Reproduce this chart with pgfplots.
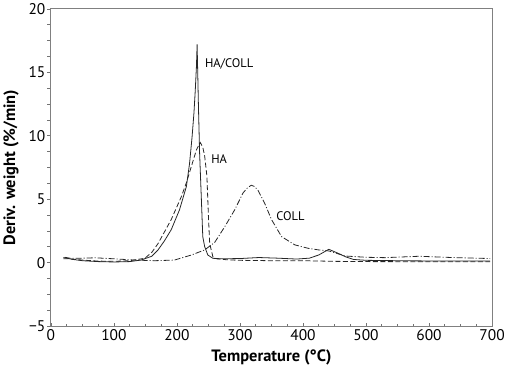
\documentclass[border=0pt]{standalone}
\usepackage{pgfplots}
\pgfplotsset{compat=1.18}
\usepackage{fontspec}
\setmainfont{PT Sans}
\begin{document}
\begin{tikzpicture}
\begin{axis}[
  scale only axis,
  width=441bp, height=317bp,
  xmin=0, xmax=700, ymin=-5, ymax=20,
  xtick={0,100,...,700}, ytick={-5,0,5,10,15,20},
  minor x tick num=3, minor y tick num=3,
  xtick pos=left, ytick pos=left,
  tick align=inside,
  major tick length=3.5bp, minor tick length=2.5bp,
  y tick style={xshift=-3.5bp},
  axis line style={draw=black!50, line width=0.9pt},
  tick style={draw=black!55, line width=0.7pt},
  /pgf/number format/assume math mode=true,
  ticklabel style={font=\fontsize{15.5}{17}\selectfont},
  yticklabel={\ifdim\tick pt<0pt −\pgfmathparse{-\tick}\pgfmathprintnumber{\pgfmathresult}\else\pgfmathprintnumber{\tick}\fi},
  yticklabel style={xshift=-2bp},
  xlabel={\bfseries Temperature (°C)},
  ylabel={\bfseries Deriv. weight (\%/min)},
  label style={font=\fontsize{16.5}{18}\selectfont},
  xlabel style={yshift=-2bp},
  ylabel style={yshift=3bp},
  clip=false,
]
% HA/COLL solid
\addplot[black!85, line width=0.8pt] coordinates {
(20,0.4)(25,0.35)(35,0.25)(50,0.15)(75,0.08)(100,0.05)(125,0.08)(143,0.2)
(160,0.5)(170,1.0)(180,1.7)(191,2.6)(204,4.15)(215,6.0)(220,7.8)(224,9.9)
(227,11.8)(229,13.5)(231,15.5)(232,17.2)(233,15.0)(234,12.6)(236,8.6)(239,4.7)
(241,2.05)(244,1.26)(249,0.6)(257,0.34)(270,0.3)(300,0.32)(330,0.4)(360,0.35)
(390,0.28)(410,0.35)(425,0.6)(441,1.05)(455,0.75)(468,0.45)(480,0.25)(500,0.18)
(550,0.15)(600,0.13)(650,0.12)(697,0.12)
};
% HA dashed
\addplot[black!85, line width=0.8pt, dash pattern=on 5bp off 2.5bp] coordinates {
(20,0.3)(30,0.3)(50,0.2)(75,0.12)(100,0.1)(125,0.15)(149,0.34)(160,0.8)
(170,1.5)(180,2.4)(191,3.4)(207,5.2)(215,6.3)(223,7.6)(231,8.9)(237,9.47)
(241,9.1)(244,8.4)(247.6,6.8)(250,3.6)(252,1.5)(257,0.47)(263,0.3)(280,0.22)
(300,0.18)(350,0.15)(400,0.15)(450,0.1)(500,0.08)(600,0.07)(697,0.07)
};
% COLL dash-dot
\addplot[black!85, line width=0.8pt, dash pattern=on 6bp off 2bp on 1bp off 2bp] coordinates {
(22,0.42)(30,0.35)(50,0.35)(70,0.38)(100,0.3)(133,0.2)(165,0.15)(196,0.2)
(223,0.6)(244,1.0)(260,1.6)(276,2.84)(291.5,4.15)(305,5.5)(312,5.9)(318,6.1)
(323,6.0)(328.6,5.7)(339,4.7)(350,3.4)(366,2.05)(387,1.4)(408,1.13)(425,1.0)
(441,0.92)(467,0.52)(500,0.42)(530,0.39)(584,0.5)(637,0.4)(697,0.32)
};
\node[anchor=west, font=\fontsize{12.5}{14}\selectfont] at (axis cs:239,15.65) {HA/COLL};
\node[anchor=west, font=\fontsize{12.5}{14}\selectfont] at (axis cs:249,8.2) {HA};
\node[anchor=west, font=\fontsize{12.5}{14}\selectfont] at (axis cs:352,3.7) {COLL};
\end{axis}
\end{tikzpicture}
\end{document}
